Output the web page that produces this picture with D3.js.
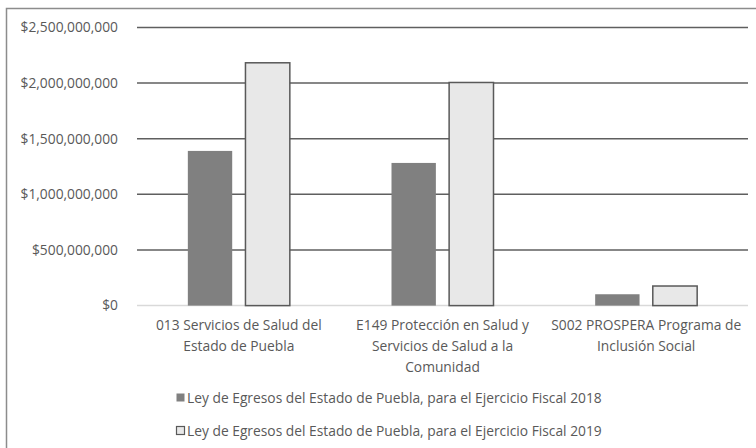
<!DOCTYPE html>
<html>
<head>
<meta charset="utf-8">
<script src="https://cdn.jsdelivr.net/npm/d3@7"></script>
<style>
  body { margin: 0; background: #fff; }
  svg { display: block; }
  svg text { font-family: "Open Sans", sans-serif; fill: #595959; }
</style>
</head>
<body>
<svg class="chart"></svg>
<script>
var categories = [
  ['013 Servicios de Salud del', 'Estado de Puebla'],
  ['E149 Protección en Salud y', 'Servicios de Salud a la', 'Comunidad'],
  ['S002 PROSPERA Programa de', 'Inclusión Social']
];
var series2018 = [1390000000, 1282000000, 102000000];
var series2019 = [2182000000, 2005000000, 176000000];
var seriesNames = [
  'Ley de Egresos del Estado de Puebla, para el Ejercicio Fiscal 2018',
  'Ley de Egresos del Estado de Puebla, para el Ejercicio Fiscal 2019'
];
var tickValues = [0, 500000000, 1000000000, 1500000000, 2000000000, 2500000000];

var width = 756;
var height = 448;
var chart = d3.select('.chart').attr('width', width).attr('height', height);

// outer frame
chart.append('rect')
  .attr('x', 6.5).attr('y', 8.5)
  .attr('width', width + 10).attr('height', height + 10)
  .attr('fill', '#fff').attr('stroke', '#8c8c8c').attr('stroke-width', 1.5);

var plotLeft = 137, plotRight = 748, plotTop = 27.4, plotBottom = 305.6;

var y = d3.scaleLinear().domain([0, 2500000000]).range([plotBottom, plotTop]);
var x0 = d3.scaleBand().domain(d3.range(categories.length)).range([plotLeft, plotRight]);
var x1 = d3.scaleBand().domain([0, 1]).range([-51, 51]).paddingInner(0.23);

var fmt = d => '$' + d3.format(',')(d);

// gridlines
chart.append('g').selectAll('line')
  .data(tickValues)
  .enter().append('line')
  .attr('x1', plotLeft).attr('x2', plotRight)
  .attr('y1', d => y(d)).attr('y2', d => y(d))
  .attr('stroke', d => d === 0 ? '#d9d9d9' : '#5f5f5f')
  .attr('stroke-width', 1.5);

// y tick labels
chart.append('g').selectAll('text')
  .data(tickValues)
  .enter().append('text')
  .attr('x', 118).attr('y', d => y(d))
  .attr('dy', '0.35em')
  .attr('text-anchor', 'end')
  .style('font-size', '13.8px')
  .text(fmt);

// bars
var groups = chart.append('g').selectAll('g')
  .data(categories.map((c, i) => i))
  .enter().append('g')
  .attr('transform', i => 'translate(' + (x0(i) + x0.bandwidth() / 2) + ',0)');

groups.append('rect')
  .attr('x', x1(0)).attr('width', x1.bandwidth())
  .attr('y', i => y(series2018[i]))
  .attr('height', i => y(0) - y(series2018[i]))
  .attr('fill', '#808080');

groups.append('rect')
  .attr('x', x1(1)).attr('width', x1.bandwidth())
  .attr('y', i => y(series2019[i]))
  .attr('height', i => y(0) - y(series2019[i]))
  .attr('fill', '#e8e8e8')
  .attr('stroke', '#595959').attr('stroke-width', 1.5);

// category labels
groups.each(function(i) {
  var t = d3.select(this).append('text')
    .attr('text-anchor', 'middle')
    .style('font-size', '13.8px');
  t.selectAll('tspan')
    .data(categories[i])
    .enter().append('tspan')
    .attr('x', 0)
    .attr('y', (d, k) => 330 + k * 21)
    .text(d => d);
});

// legend
var legend = chart.append('g').selectAll('g')
  .data(seriesNames)
  .enter().append('g')
  .attr('transform', (d, k) => 'translate(176,' + (398 + k * 33) + ')');

legend.append('rect')
  .attr('x', 0.5).attr('y', -4.5)
  .attr('width', 8).attr('height', 8)
  .attr('fill', (d, k) => k === 0 ? '#808080' : '#e8e8e8')
  .attr('stroke', (d, k) => k === 0 ? 'none' : '#595959')
  .attr('stroke-width', 1.2);

legend.append('text')
  .attr('x', 11).attr('y', 0)
  .attr('dy', '0.35em')
  .style('font-size', '13.8px')
  .text(d => d);
</script>
</body>
</html>
